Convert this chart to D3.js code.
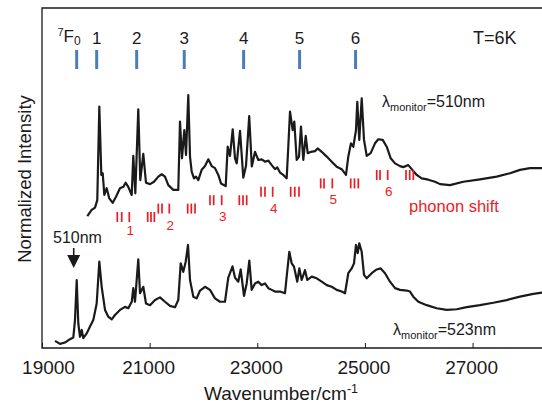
<!DOCTYPE html>
<html>
<head>
<meta charset="utf-8">
<script src="https://cdn.jsdelivr.net/npm/d3@7"></script>
<style>
  body { margin: 0; background: #fff; }
  svg { display: block; font-family: Arial, "Liberation Sans", sans-serif; }
</style>
</head>
<body>
<svg id="chart" width="542" height="407"></svg>
<script>
// axis
const wavenumberTicks = [19000, 21000, 23000, 25000, 27000]

// 7F_J levels (cm-1) and their labels
const levelNames = ['0', '1', '2', '3', '4', '5', '6']
const levelPositions = [19644, 20016, 20759, 21643, 22746, 23786, 24826]

// phonon sidebands: per level J=1..6, "II I" then "III" (cm-1)
const phononGroups = [
  [20399, 20481, 20622, 20964, 21025, 21087],
  [21161, 21230, 21365, 21707, 21774, 21843],
  [22121, 22190, 22339, 22666, 22735, 22803],
  [23069, 23143, 23286, 23621, 23697, 23775],
  [24178, 24240, 24394, 24736, 24806, 24877],
  [25219, 25280, 25423, 25763, 25832, 25899]
]
const phononLabels = ['1', '2', '3', '4', '5', '6']

// excitation spectrum monitored at 510 nm (offset upward)
const spectrum510 = [
  [19842, 38.8], [19923, 40.6], [19985, 41.3], [20027, 43.5], [20065, 71.0], [20102, 50.9],
  [20128, 51.4], [20158, 45.0], [20202, 47.0], [20250, 44.0], [20314, 42.7], [20375, 44.5],
  [20449, 47.0], [20511, 47.4], [20555, 48.6], [20603, 47.4], [20667, 45.0], [20696, 56.5],
  [20734, 45.5], [20789, 70.2], [20826, 49.4], [20882, 57.1], [20932, 48.6], [21007, 48.2],
  [21081, 48.9], [21161, 50.4], [21224, 51.1], [21285, 50.4], [21347, 47.9], [21440, 46.5],
  [21532, 46.5], [21564, 66.6], [21601, 55.8], [21644, 64.1], [21676, 56.8], [21718, 74.4],
  [21750, 56.3], [21781, 51.9], [21824, 49.9], [21861, 50.4], [21904, 49.4], [21967, 52.4],
  [22029, 53.5], [22090, 55.5], [22153, 53.5], [22214, 52.9], [22276, 50.9], [22326, 48.4],
  [22413, 47.6], [22450, 59.2], [22493, 56.5], [22543, 64.3], [22586, 55.8], [22618, 54.3],
  [22679, 63.9], [22740, 50.1], [22790, 53.5], [22850, 68.2], [22898, 53.4], [22958, 57.7],
  [23019, 55.3], [23082, 55.5], [23143, 54.8], [23205, 55.1], [23268, 53.8], [23329, 52.6],
  [23372, 53.1], [23422, 51.6], [23483, 50.9], [23546, 49.9], [23576, 59.2], [23608, 69.5],
  [23658, 64.1], [23688, 66.6], [23732, 55.3], [23775, 56.3], [23812, 65.1], [23855, 55.3],
  [23900, 62.4], [23937, 57.3], [23998, 57.7], [24072, 57.9], [24122, 58.7], [24197, 57.7],
  [24290, 56.3], [24383, 54.8], [24476, 53.3], [24568, 52.6], [24648, 50.9], [24691, 56.3],
  [24741, 60.2], [24784, 59.2], [24834, 64.1], [24858, 72.4], [24895, 61.2], [24940, 73.4],
  [24983, 61.2], [25033, 56.5], [25107, 57.3], [25187, 60.2], [25249, 61.4], [25330, 61.2],
  [25405, 59.2], [25479, 55.8], [25559, 54.3], [25652, 53.5], [25713, 53.2], [25806, 53.8],
  [25869, 52.6], [25962, 50.9], [26055, 49.9], [26177, 49.5], [26302, 48.9], [26395, 48.2],
  [26581, 47.9], [26828, 48.9], [27138, 49.6], [27448, 50.4], [27695, 51.4], [27881, 52.4],
  [28067, 52.9], [28290, 52.9]
]

// excitation spectrum monitored at 523 nm
const spectrum523 = [
  [19242, 2.1], [19334, 1.2], [19427, 1.6], [19520, 2.6], [19582, 3.1], [19613, 8.2],
  [19645, 20.0], [19674, 7.3], [19706, 3.3], [19738, 5.3], [19767, 2.9], [19831, 4.3],
  [19892, 6.3], [19953, 8.2], [20016, 13.1], [20065, 25.4], [20109, 18.0], [20171, 11.2],
  [20232, 9.2], [20295, 8.4], [20356, 9.7], [20449, 11.2], [20542, 12.1], [20603, 11.7],
  [20667, 13.6], [20696, 17.6], [20728, 13.6], [20789, 26.1], [20821, 16.1], [20882, 18.0],
  [20932, 13.1], [21007, 12.6], [21100, 14.1], [21192, 14.9], [21285, 13.6], [21378, 12.4],
  [21471, 12.0], [21532, 14.1], [21577, 24.9], [21625, 22.4], [21670, 25.4], [21713, 30.3],
  [21750, 20.0], [21811, 15.1], [21874, 14.6], [21936, 16.9], [22029, 18.0], [22121, 17.1],
  [22214, 14.6], [22307, 13.6], [22400, 13.6], [22461, 20.7], [22540, 24.0], [22586, 20.7],
  [22647, 19.5], [22692, 23.1], [22753, 15.3], [22803, 19.0], [22852, 25.7], [22896, 17.1],
  [22958, 19.0], [23019, 19.5], [23082, 18.5], [23143, 19.0], [23205, 17.6], [23268, 17.1],
  [23329, 16.6], [23422, 16.6], [23515, 16.1], [23546, 21.0], [23595, 28.3], [23639, 24.9],
  [23682, 23.9], [23743, 19.5], [23781, 23.4], [23825, 20.0], [23887, 22.9], [23929, 20.0],
  [24011, 21.0], [24104, 20.5], [24197, 19.5], [24290, 18.5], [24383, 18.0], [24476, 17.1],
  [24568, 16.6], [24630, 16.1], [24691, 22.0], [24754, 23.4], [24797, 24.9], [24834, 30.3],
  [24866, 27.9], [24895, 30.8], [24940, 28.3], [24983, 21.5], [25033, 20.5], [25126, 22.0],
  [25219, 23.1], [25293, 23.4], [25373, 22.0], [25466, 19.5], [25559, 17.6], [25652, 17.1],
  [25776, 16.9], [25837, 16.6], [25899, 15.1], [25992, 13.6], [26148, 12.6], [26334, 11.7],
  [26519, 11.2], [26705, 11.4], [26891, 12.0], [27138, 12.6], [27385, 13.3], [27634, 14.1],
  [27881, 15.1], [28129, 15.9], [28290, 16.3]
]

const peak510 = 1e7 / 510

const svg = d3.select('#chart')
const plotLeft = 42, plotRight = 542, plotTop = 8, plotBottom = 348
const ink = '#1a1a1a'
const red = '#ec1c24'
const blue = '#4a7ebb'

const x = d3.scaleLinear().domain([19000, 28290]).range([plotLeft, plotRight])
const y = d3.scaleLinear().domain([0, 100]).range([plotBottom, plotTop])

svg.append('defs').append('clipPath').attr('id', 'plot-clip')
  .append('rect').attr('x', plotLeft).attr('y', plotTop)
  .attr('width', plotRight - plotLeft).attr('height', plotBottom - plotTop)

// bottom axis, ticks inside
const axis = svg.append('g')
  .attr('transform', `translate(0,${plotBottom})`)
  .call(d3.axisBottom(x).tickValues(wavenumberTicks).tickFormat(d3.format('d'))
    .tickSize(-5).tickPadding(13))
axis.select('.domain').remove()
axis.selectAll('.tick line').attr('stroke', ink).attr('stroke-width', 1)
axis.selectAll('.tick text')
  .attr('fill', ink).style('font-size', '19px')
  .attr('dx', d => d === 19000 ? 6 : -1.5)

// frame (left, top, bottom)
svg.append('path')
  .attr('d', `M${plotRight},${plotTop}H${plotLeft}V${plotBottom}H${plotRight}`)
  .attr('fill', 'none').attr('stroke', ink).attr('stroke-width', 1.3)

// axis titles
const xTitle = svg.append('text')
  .attr('x', 281).attr('y', 400)
  .attr('text-anchor', 'middle').attr('fill', ink).style('font-size', '19px')
xTitle.append('tspan').text('Wavenumber/cm')
xTitle.append('tspan').text('-1').attr('dy', -7).style('font-size', '12.5px')

svg.append('text')
  .attr('transform', 'translate(31,179) rotate(-90)')
  .attr('text-anchor', 'middle').attr('fill', ink).style('font-size', '18.5px')
  .text('Normalized Intensity')

// spectra
const line = d3.line().x(d => x(d[0])).y(d => y(d[1]))
const curves = svg.append('g').attr('clip-path', 'url(#plot-clip)')
curves.selectAll('path').data([spectrum510, spectrum523]).enter()
  .append('path')
  .attr('d', line)
  .attr('fill', 'none').attr('stroke', ink)
  .attr('stroke-width', 2.2).attr('stroke-linejoin', 'round')

// 7F_J level markers
svg.selectAll('.level').data(levelPositions).enter()
  .append('line').attr('class', 'level')
  .attr('x1', d => x(d)).attr('x2', d => x(d))
  .attr('y1', 50).attr('y2', 69)
  .attr('stroke', blue).attr('stroke-width', 3)

levelNames.forEach((name, i) => {
  const t = svg.append('text').attr('y', 44).attr('fill', ink).style('font-size', '17px')
  if(i === 0) {
    t.attr('x', x(levelPositions[0]) + 4).attr('text-anchor', 'end')
    t.append('tspan').text('7').style('font-size', '11px').attr('dy', -8)
    t.append('tspan').text('F').attr('dy', 6)
    t.append('tspan').text(name).style('font-size', '12px').attr('dy', 3)
  } else {
    t.attr('x', x(levelPositions[i])).attr('text-anchor', 'middle').text(name)
  }
})

svg.append('text')
  .attr('x', 473).attr('y', 44).attr('fill', ink).style('font-size', '18px')
  .text('T=6K')

// phonon sideband markers
const groups = svg.selectAll('.phonon').data(phononGroups).enter()
  .append('g').attr('class', 'phonon')
  .attr('transform', (d, i) => `translate(0,${212 - i * 8.4})`)
groups.selectAll('line').data(d => d).enter()
  .append('line')
  .attr('x1', d => x(d)).attr('x2', d => x(d))
  .attr('y1', 0).attr('y2', 10)
  .attr('stroke', red).attr('stroke-width', 1.7)
groups.append('text')
  .attr('x', d => x(d[2]) + 1)
  .attr('y', (d, i) => i === 0 ? 23 : 26)
  .attr('text-anchor', 'middle').attr('fill', red).style('font-size', '13.5px')
  .text((d, i) => phononLabels[i])

svg.append('text')
  .attr('x', 409).attr('y', 212).attr('fill', red).style('font-size', '16.5px')
  .text('phonon shift')

// monitor labels
function monitorLabel(px, py, nm) {
  const t = svg.append('text').attr('x', px).attr('y', py).attr('fill', ink).style('font-size', '16px')
  t.append('tspan').text('λ')
  t.append('tspan').text('monitor').style('font-size', '11px').attr('dy', 4)
  t.append('tspan').text('=' + nm).attr('dy', -4)
}
monitorLabel(382, 107, '510nm')
monitorLabel(393, 335, '523nm')

// 510 nm arrow
const ax = x(peak510) - 1
svg.append('text')
  .attr('x', 53).attr('y', 243).attr('fill', ink).style('font-size', '16px')
  .text('510nm')
svg.append('line')
  .attr('x1', ax).attr('x2', ax).attr('y1', 248).attr('y2', 257)
  .attr('stroke', ink).attr('stroke-width', 1.6)
svg.append('path')
  .attr('d', `M${ax - 6.5},255L${ax + 6.5},255L${ax},268Z`)
  .attr('fill', ink)
</script>
</body>
</html>
